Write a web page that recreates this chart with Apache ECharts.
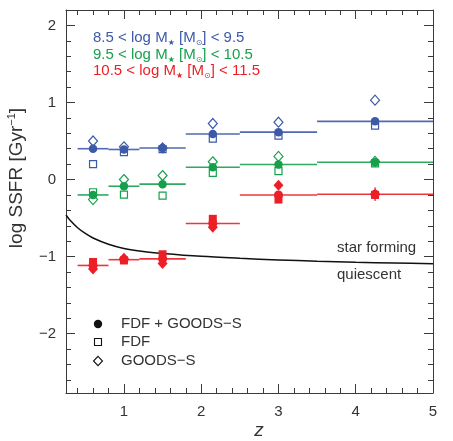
<!DOCTYPE html>
<html><head><meta charset="utf-8">
<script src="https://cdn.jsdelivr.net/npm/echarts@6/dist/echarts.min.js"></script>
<style>html,body{margin:0;padding:0;background:#fff}#c{width:453px;height:441px}</style>
</head><body><div id="c"></div>
<script>
// ---- data ----
const zMid  = [0.6, 1.0, 1.5, 2.15, 3.0, 4.25];
const binLo = [0.4, 0.8, 1.2, 1.8, 2.5, 3.5];
const binHi = [0.8, 1.2, 1.8, 2.5, 3.5, 5.0];

// 8.5 < log M < 9.5
const lowAll   = [0.40, 0.39, 0.41, 0.59, 0.615, 0.755];
const lowFDF   = [0.20, 0.355, 0.395, 0.53, 0.57, 0.70];
const lowGOODS = [0.50, 0.425, 0.41, 0.727, 0.744, 1.03];
// 9.5 < log M < 10.5
const midAll   = [-0.20, -0.087, -0.06, 0.16, 0.195, 0.225];
const midFDF   = [-0.165, -0.195, -0.208, 0.087, 0.108, 0.21];
const midGOODS = [-0.26, 0.0, 0.052, 0.23, 0.30, 0.235];
// 10.5 < log M < 11.5
const highAll   = [-1.115, -1.04, -1.03, -0.57, -0.20, -0.19];
const highFDF   = [-1.07, -1.05, -0.97, -0.51, -0.26, -0.20];
const highGOODS = [-1.16, -1.02, -1.09, -0.62, -0.074, -0.19];
const highErr   = [0.07, 0.02, 0.02, 0.02, 0.02, 0.09];

// star-forming / quiescent dividing curve
const curveZ = [0.25, 0.3, 0.4, 0.5, 0.6, 0.8, 1.0, 1.25, 1.5, 2.0, 2.5, 3.0, 3.5, 4.0, 4.5, 5.0];
const curveY = [-0.46, -0.525, -0.625, -0.70, -0.758, -0.84, -0.895, -0.935, -0.96, -0.997, -1.022, -1.043, -1.06, -1.073, -1.083, -1.092];

// axis ticks
const xMajor = [1, 2, 3, 4, 5];
const yMajor = [-2, -1, 0, 1, 2];
const xMinor = []; for (let i = 2; i <= 24; i++) { if (i % 5) xMinor.push(+(i * 0.2).toFixed(1)); }
const yMinor = []; for (let i = -13; i <= 11; i++) { if (i % 5) yMinor.push(+(i * 0.2).toFixed(1)); }

const massLabels = [
  ['8.5 < log M', '] < 9.5'],
  ['9.5 < log M', '] < 10.5'],
  ['10.5 < log M', '] < 11.5']
];
const sampleLabels = ['FDF + GOODS\u2212S', 'FDF', 'GOODS\u2212S'];

// ---- styling ----
const BLUE = '#3d5aa9', GREEN = '#17a04c', RED = '#ec1f27';
const AX = '#3a3a3a';
const FONT = '"Liberation Sans", Arial, Helvetica, sans-serif';
const X0 = 0.25, X1 = 5.0, Y0 = -2.77, Y1 = 2.2;

function xAx(pos, ticks, len, labels, line) {
  return {type: 'value', min: X0, max: X1, position: pos,
    axisLine: {show: line, onZero: false, lineStyle: {color: AX, width: 1}},
    axisTick: {show: true, inside: true, length: len, customValues: ticks, lineStyle: {color: AX, width: 1}},
    axisLabel: labels ? {show: true, customValues: ticks, fontSize: 15, color: '#333', margin: 11, fontFamily: FONT} : {show: false},
    splitLine: {show: false}};
}
function yAx(pos, ticks, len, labels, line) {
  return {type: 'value', min: Y0, max: Y1, position: pos,
    axisLine: {show: line, onZero: false, lineStyle: {color: AX, width: 1}},
    axisTick: {show: true, inside: true, length: len, customValues: ticks, lineStyle: {color: AX, width: 1}},
    axisLabel: labels ? {show: true, customValues: ticks, fontSize: 15, color: '#333', margin: 10, fontFamily: FONT,
      formatter: v => (v < 0 ? '\u2212' + Math.abs(v) : String(v))} : {show: false},
    splitLine: {show: false}};
}

function bins(vals, color) {
  return {type: 'custom', xAxisIndex: 0, yAxisIndex: 0, z: 2,
    data: vals.map((v, i) => [binLo[i], binHi[i], v]),
    encode: {x: [0, 1], y: 2},
    renderItem: (params, api) => {
      const a = api.coord([api.value(0), api.value(2)]);
      const b = api.coord([api.value(1), api.value(2)]);
      return {type: 'line', shape: {x1: a[0], y1: a[1], x2: b[0], y2: b[1]},
        style: {stroke: color, lineWidth: 1.6, opacity: 0.9}};
    }};
}
function pts(vals, color, symbol, size, filled) {
  return {type: 'scatter', xAxisIndex: 0, yAxisIndex: 0, z: 3,
    symbol: symbol, symbolSize: size,
    itemStyle: {color: filled ? color : 'rgba(255,255,255,0)', borderColor: color, borderWidth: filled ? 0 : 1.2, opacity: 1},
    data: vals.map((v, i) => [zMid[i], v])};
}
function errs(vals, e, color) {
  return {type: 'custom', xAxisIndex: 0, yAxisIndex: 0, z: 3,
    data: vals.map((v, i) => [zMid[i], v - e[i], v + e[i]]),
    encode: {x: 0, y: [1, 2]},
    renderItem: (params, api) => {
      const a = api.coord([api.value(0), api.value(1)]);
      const b = api.coord([api.value(0), api.value(2)]);
      return {type: 'line', shape: {x1: a[0], y1: a[1], x2: b[0], y2: b[1]},
        style: {stroke: color, lineWidth: 1.2}};
    }};
}

function massText(i, color, y) {
  const sub = {fontSize: 8, lineHeight: 8, verticalAlign: 'bottom', fill: color, fontFamily: 'DejaVu Sans'};
  const n = {fontSize: 15, lineHeight: 19, fill: color, fontFamily: FONT, verticalAlign: 'middle'};
  return {type: 'text', left: 93, top: y, z: 10,
    style: {text: '{n|' + massLabels[i][0] + '}{s|\u2605}{n| [M}{s|\u2299}{n|' + massLabels[i][1] + '}',
      rich: {n: n, s: sub}, fill: color}};
}

const option = {
  animation: false,
  backgroundColor: '#fff',
  grid: {left: 66, right: 20, top: 10, bottom: 48, containLabel: false},
  xAxis: [xAx('bottom', xMajor, 9, true, true), xAx('bottom', xMinor, 5, false, false),
          xAx('top', xMajor, 9, false, true), xAx('top', xMinor, 5, false, false)],
  yAxis: [yAx('left', yMajor, 9, true, true), yAx('left', yMinor, 5, false, false),
          yAx('right', yMajor, 9, false, true), yAx('right', yMinor, 5, false, false)],
  series: [
    {type: 'line', xAxisIndex: 0, yAxisIndex: 0, z: 1, smooth: 0.3, showSymbol: false,
     lineStyle: {color: '#111', width: 1.5}, data: curveZ.map((z, i) => [z, curveY[i]])},
    bins(lowAll, BLUE), bins(midAll, GREEN), bins(highAll, RED),
    pts(lowFDF, BLUE, 'rect', 7, false), pts(lowGOODS, BLUE, 'diamond', [9, 10], false), pts(lowAll, BLUE, 'circle', 8.5, true),
    pts(midFDF, GREEN, 'rect', 7, false), pts(midGOODS, GREEN, 'diamond', [9, 10], false), pts(midAll, GREEN, 'circle', 8.5, true),
    errs(highAll, highErr, RED),
    pts(highFDF, RED, 'rect', 8, true), pts(highGOODS, RED, 'diamond', [10, 11], true), pts(highAll, RED, 'circle', 9, true)
  ],
  graphic: [
    massText(0, BLUE, 30), massText(1, GREEN, 47), massText(2, RED, 63),
    {type: 'text', left: 337, top: 240, style: {text: 'star forming', fontSize: 15, fill: '#333', fontFamily: FONT}},
    {type: 'text', left: 337, top: 267, style: {text: 'quiescent', fontSize: 15, fill: '#333', fontFamily: FONT}},
    {type: 'circle', shape: {cx: 98, cy: 324, r: 4.2}, style: {fill: '#111'}},
    {type: 'rect', shape: {x: 94.5, y: 338.5, width: 7, height: 7}, style: {fill: 'none', stroke: '#111', lineWidth: 1.1}},
    {type: 'polygon', shape: {points: [[98, 356.3], [102.5, 361], [98, 365.7], [93.5, 361]]}, style: {fill: 'none', stroke: '#111', lineWidth: 1.1}},
    {type: 'text', x: 121, y: 324, style: {text: sampleLabels[0], fontSize: 15, fill: '#333', fontFamily: FONT, verticalAlign: 'middle'}},
    {type: 'text', x: 121, y: 342, style: {text: sampleLabels[1], fontSize: 15, fill: '#333', fontFamily: FONT, verticalAlign: 'middle'}},
    {type: 'text', x: 121, y: 361, style: {text: sampleLabels[2], fontSize: 15, fill: '#333', fontFamily: FONT, verticalAlign: 'middle'}},
    {type: 'text', x: 17, y: 178, rotation: Math.PI / 2,
     style: {text: '{n|log SSFR [Gyr}{p|\u22121}{n|]}', align: 'center', verticalAlign: 'middle',
       rich: {n: {fontSize: 19, lineHeight: 22, fill: '#333', fontFamily: FONT, verticalAlign: 'middle'},
              p: {fontSize: 11, lineHeight: 11, fill: '#333', fontFamily: FONT, verticalAlign: 'top'}}}},
    {type: 'text', x: 259, y: 431, style: {text: 'z', fontSize: 19, fontStyle: 'italic', fill: '#333', fontFamily: FONT, align: 'center', verticalAlign: 'middle'}}
  ]
};
const chart = echarts.init(document.getElementById('c'), null, {renderer: 'canvas'});
chart.setOption(option);
</script>
</body></html>
